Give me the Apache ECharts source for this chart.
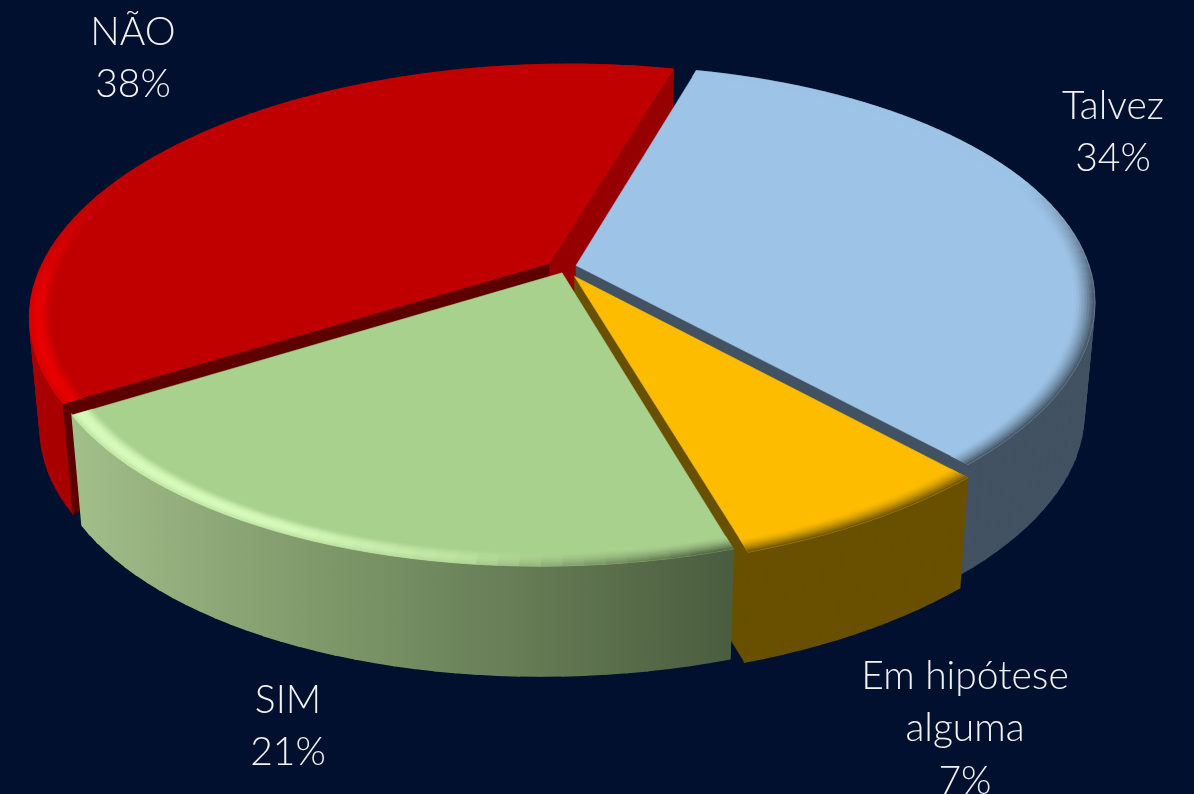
<!DOCTYPE html>
<html><head><meta charset="utf-8">
<style>html,body{margin:0;padding:0;background:#00102e;overflow:hidden}#c{width:1194px;height:794px}</style>
<script src="https://cdn.jsdelivr.net/npm/echarts@6/dist/echarts.min.js"></script>
</head><body><div id="c"></div>
<script>
// data (clockwise, back to front paint order)
const categories = ['NÃO', 'Talvez', 'Em hipótese alguma', 'SIM'];
const values = [38, 34, 7, 21];
const labelLines = [['NÃO'], ['Talvez'], ['Em hipótese', 'alguma'], ['SIM']];
// styling
const topColors = ['#c00000', '#9dc3e6', '#fdbc00', '#a9d18e'];
const hiColors = ['#e80000', '#9dc3e6', '#fdbc00', '#d8fbbc'];
const wallColors = ['#a80000', '#425262', '#685000', '#8aa674'];
const cutColors = [['#960000', '#5c0000'], ['#425262', null], ['#685000', null], [null, null]];
const labelPos = [[133, 32], [1113, 106], [965, 676], [288, 700]];
const sliceShift = [[-5, -1], [-2, -1], [3, 3], [2, -1]];
// projection
const P = {cx: 565, y0: 268, d: 5.44, g: 1289, f: 2781, h: 110, baseScale: 0.98, explode: 0.026, startDeg: 238.9, bevel: 0.038, shearX: -0.025, shearY: -0.012};
const total = values.reduce((a, b) => a + b, 0);
const rad = a => a * Math.PI / 180;
function project(X, Z, base, shift) {
  const k = P.d - Z;
  const x0 = P.f * X / k, y0 = P.g * Z / k;
  let x = x0 + P.shearX * y0, y = y0 + P.shearY * x0;
  if (base) x *= P.baseScale;
  return [P.cx + x + shift[0], P.y0 + y + (base ? P.h : 0) + shift[1]];
}
const hex = c => [1, 3, 5].map(i => parseInt(c.substr(i, 2), 16));
const mix = (a, b, t) => a.map((v, i) => v + (b[i] - v) * t);
const css = c => 'rgb(' + c.map(Math.round).join(',') + ')';
const clamp = v => Math.max(0, Math.min(1, v));
function sliceRange(i) {
  let s = P.startDeg;
  for (let j = 0; j < i; j++) s += values[j] / total * 360;
  return [s, s + values[i] / total * 360];
}
function renderItem(params, api) {
  const i = params.dataIndex, [a0, a1] = sliceRange(i), mid = rad((a0 + a1) / 2), sh = sliceShift[i];
  const ox = P.explode * Math.sin(mid), oz = -P.explode * Math.cos(mid);
  const pt = (deg, r, base) => project(ox + r * Math.sin(rad(deg)), oz - r * Math.cos(rad(deg)), base, sh);
  const n = Math.max(4, Math.round((a1 - a0) / 2));
  const angs = []; for (let k = 0; k <= n; k++) angs.push(a0 + (a1 - a0) * k / n);
  const kids = [];
  const poly = (points, fill, lw) => kids.push({type: 'polygon', shape: {points}, style: {fill, stroke: fill, lineWidth: lw || 0.5}, silent: true});
  const apex = project(ox, oz, false, sh), apexB = project(ox, oz, true, sh);
  // rim wall
  const rimT = angs.map(a => pt(a, 1, false)), rimB = angs.map(a => pt(a, 1, true));
  let wallFill = wallColors[i];
  if (i === 3) wallFill = new echarts.graphic.LinearGradient(70, 0, 735, 0, [{offset: 0, color: '#a3bf8a'}, {offset: 0.3, color: '#86a070'}, {offset: 0.65, color: '#687f57'}, {offset: 1, color: '#4a5c3e'}], true);
  for (let m = 0; m < n; m++) poly([rimT[m], rimT[m + 1], rimB[m + 1], rimB[m]], wallFill, 1.4);
  // cut walls
  if (cutColors[i][1]) poly([apex, rimT[0], rimB[0], apexB], cutColors[i][1]);
  if (cutColors[i][0]) poly([apex, rimT[n], rimB[n], apexB], cutColors[i][0]);
  // top face
  poly([apex].concat(rimT), topColors[i]);
  // bevel bands
  const K = 8, top = hex(topColors[i]), hi = hex(hiColors[i]), wall = hex(wallColors[i]);
  const wallEnd = i === 3 ? hex('#4f6242') : wall;
  for (let k = 0; k < K; k++) {
    const r0 = 1 - P.bevel * (1 - k / K), r1 = 1 - P.bevel * (1 - (k + 1) / K), t = (k + 0.5) / K;
    for (let m = 0; m < n; m++) {
      const am = (angs[m] + angs[m + 1]) / 2, X = Math.sin(rad(am)), Z = -Math.cos(rad(am));
      const hiAmt = clamp((-X + 0.05) / 0.5) * clamp((Z + 0.35) / 0.5);
      const dark = clamp((X + 0.15) / 0.4) * clamp((Z + 0.35) / 0.5);
      let c = mix(top, hi, hiAmt * Math.sin(Math.PI * Math.min(1, t * 0.85)));
      c = mix(c, wallEnd, dark * Math.pow(t, 1.5));
      poly([pt(angs[m], r0), pt(angs[m + 1], r0), pt(angs[m + 1], r1), pt(angs[m], r1)], css(c));
    }
  }
  // label
  const lines = labelLines[i].concat([api.value(0) + '%']);
  lines.forEach((line, li) => kids.push({type: 'text', silent: true, z2: 100,
    style: {text: line, x: labelPos[i][0], y: labelPos[i][1] + li * 52.5, fill: '#f2f2f2', align: 'center', verticalAlign: 'middle',
      fontFamily: 'Lato', fontWeight: 300, fontSize: 39}}));
  return {type: 'group', children: kids};
}
const chart = echarts.init(document.getElementById('c'), null, {renderer: 'canvas'});
chart.setOption({
  animation: false, backgroundColor: '#00102e',
  series: [{type: 'custom', coordinateSystem: 'none', renderItem, clip: false,
    data: categories.map((c, i) => ({name: c, value: [values[i]]}))}]
});
</script></body></html>
